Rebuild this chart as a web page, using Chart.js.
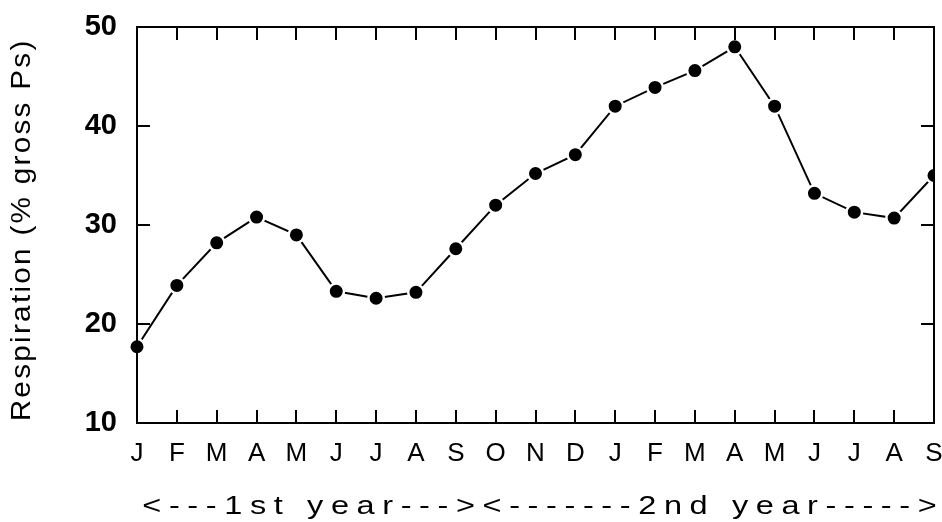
<!DOCTYPE html>
<html>
<head>
<meta charset="utf-8">
<script src="https://cdn.jsdelivr.net/npm/chart.js@4/dist/chart.umd.min.js"></script>
<style>
  html, body { margin: 0; padding: 0; background: #fff; }
  #wrap { width: 942px; height: 522px; }
</style>
</head>
<body>
<div id="wrap"><canvas id="c" width="942" height="522"></canvas></div>
<script>
const months = ['J','F','M','A','M','J','J','A','S','O','N','D','J','F','M','A','M','J','J','A','S'];
const respiration = [17.7, 23.9, 28.2, 30.8, 29.0, 23.3, 22.6, 23.2, 27.6, 32.0, 35.2, 37.1, 42.0, 43.9, 45.6, 48.0, 42.0, 33.2, 31.3, 30.7, 35.0];
const yTickValues = [10, 20, 30, 40, 50];
const yTitle = 'Respiration (% gross Ps)';
const xTitle = '<---1st year---><-------2nd year----->';

function drawSpread(ctx, text, cx, cy, font, stretch, target) {
  ctx.save();
  ctx.font = font;
  ctx.letterSpacing = '0px';
  const w = ctx.measureText(text).width;
  const sp = (target / stretch - w) / text.length;
  ctx.letterSpacing = sp + 'px';
  ctx.translate(cx, cy);
  ctx.scale(stretch, 1);
  ctx.fillText(text, sp / 2, 0);
  ctx.restore();
}

function noOverflow(s) {
  s.paddingLeft = 0; s.paddingRight = 0; s.paddingTop = 0; s.paddingBottom = 0;
}

const framePlugin = {
  id: 'frame',
  afterDraw(chart) {
    const ctx = chart.ctx;
    const a = chart.chartArea;
    const xs = chart.scales.x, ys = chart.scales.y;
    const tl = 13;
    ctx.save();
    ctx.strokeStyle = '#000';
    ctx.lineWidth = 2;
    ctx.strokeRect(a.left, a.top, a.right - a.left, a.bottom - a.top);
    ctx.beginPath();
    for (let i = 1; i < months.length - 1; i++) {
      const x = Math.round(xs.getPixelForValue(i));
      ctx.moveTo(x, a.bottom); ctx.lineTo(x, a.bottom - tl);
      ctx.moveTo(x, a.top); ctx.lineTo(x, a.top + tl);
    }
    yTickValues.slice(1, -1).forEach(v => {
      const y = Math.round(ys.getPixelForValue(v));
      ctx.moveTo(a.left, y); ctx.lineTo(a.left + tl, y);
      ctx.moveTo(a.right, y); ctx.lineTo(a.right - tl, y);
    });
    ctx.stroke();

    ctx.fillStyle = '#000';
    ctx.textAlign = 'center';
    ctx.textBaseline = 'middle';
    // y title (rotated)
    ctx.save();
    ctx.translate(23, (a.top + a.bottom) / 2 + 6);
    ctx.rotate(-Math.PI / 2);
    drawSpread(ctx, yTitle, 0, 0, '27px "Liberation Sans", Arial, sans-serif', 1.1, 383);
    ctx.restore();
    // x title
    drawSpread(ctx, xTitle, (a.left + a.right) / 2 + 4, a.bottom + 84,
      '25px "Liberation Sans", Arial, sans-serif', 1.3, 802);
    ctx.restore();
  }
};

new Chart(document.getElementById('c'), {
  type: 'line',
  data: {
    labels: months,
    datasets: [{
      data: respiration,
      borderColor: '#000',
      borderWidth: 2,
      tension: 0,
      pointRadius: 7.75,
      pointHoverRadius: 7.75,
      pointBackgroundColor: '#000',
      pointBorderColor: '#fff',
      pointBorderWidth: 2.5,
      clip: { left: 12, top: 12, right: 0, bottom: 12 }
    }]
  },
  plugins: [framePlugin],
  options: {
    responsive: false,
    animation: false,
    devicePixelRatio: 1,
    layout: { autoPadding: false, padding: { left: 0, top: 27, right: 8, bottom: 0 } },
    plugins: { legend: { display: false }, tooltip: { enabled: false }, title: { display: false } },
    scales: {
      x: {
        type: 'category',
        offset: false,
        grid: { display: false, drawTicks: false },
        border: { display: false },
        ticks: {
          color: '#000',
          padding: 15,
          maxRotation: 0,
          autoSkip: false,
          font: { family: '"Liberation Sans", Arial, sans-serif', size: 26 }
        },
        afterFit(s) { s.height = 99; noOverflow(s); }
      },
      y: {
        min: 10, max: 50,
        grid: { display: false, drawTicks: false },
        border: { display: false },
        afterBuildTicks(s) { s.ticks = yTickValues.map(v => ({ value: v })); },
        ticks: {
          color: '#000',
          padding: 20,
          font: { family: '"Liberation Sans", Arial, sans-serif', size: 29, weight: 'bold' }
        },
        afterFit(s) { s.width = 137; noOverflow(s); }
      }
    }
  }
});
</script>
</body>
</html>
